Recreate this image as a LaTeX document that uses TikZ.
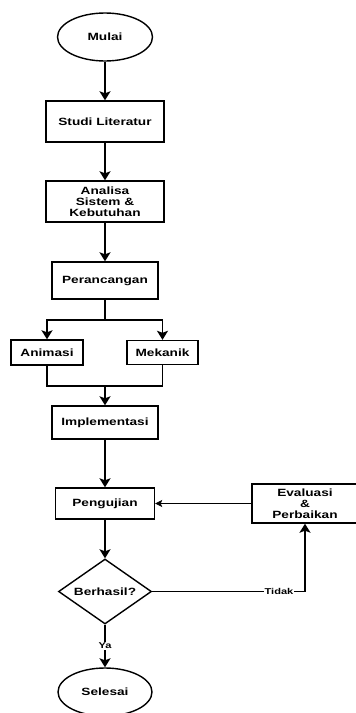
\documentclass[tikz,border=0pt]{standalone}
\usepackage{fontspec}
\setmainfont{Liberation Sans}[FakeStretch=1.3]
\usetikzlibrary{arrows.meta,positioning,shapes.geometric}

\begin{document}
\begin{tikzpicture}[%
        x=1pt, y=-1pt,
        >={Stealth[length=9pt,width=11pt,inset=2pt]},
        on grid,
        every node/.style={font=\fontsize{10.5}{11}\selectfont\bfseries, align=center},
        terminal/.style={ellipse, draw, line width=1.4pt, minimum width=95pt, minimum height=48pt, inner sep=0pt},
        procbox/.style={rectangle, draw, line width=1.4pt, inner sep=0pt},
        decision/.style={diamond, draw, line width=1.4pt, minimum width=93pt, minimum height=65pt, aspect=1.43, inner sep=0pt},
        flow/.style={line width=1.6pt},
        thinflow/.style={line width=0.8pt, -{Stealth[length=7pt,width=7pt,inset=1.5pt]}},
        answer/.style={fill=white, inner sep=1pt, font=\fontsize{8.5}{9}\selectfont\bfseries}
        ]

        \useasboundingbox (0,0) rectangle (356,713);

        \node[terminal] (mulai) at (105,37) {Mulai};
        \node[procbox, minimum width=118pt, minimum height=41pt] (studi) [below=84.5pt of mulai] {Studi Literatur};
        \node[procbox, minimum width=118pt, minimum height=41pt] (analisa) [below=80pt of studi] {Analisa\\Sistem \&\\Kebutuhan};
        \node[procbox, minimum width=106pt, minimum height=37pt] (peran) [below=79pt of analisa] {Perancangan};
        \coordinate[below=39.5pt of peran] (fork);
        \node[procbox, minimum width=72pt, minimum height=25pt] (animasi) [below left=72pt and 58pt of peran] {Animasi};
        \node[procbox, minimum width=71pt, minimum height=24pt] (mekanik) [below right=72pt and 57.5pt of peran] {Mekanik};
        \coordinate[below=105.5pt of peran] (gabung);
        \node[procbox, minimum width=106pt, minimum height=33pt] (impl) [below=142pt of peran] {Implementasi};
        \node[procbox, minimum width=99pt, minimum height=31pt] (uji) [below=81pt of impl] {Pengujian};
        \node[procbox, minimum width=106pt, minimum height=39pt] (eval) [right=200pt of uji] {Evaluasi\\\&\\Perbaikan};
        \node[decision] (cek) [below=88pt of uji] {Berhasil?};
        \node[terminal, minimum width=94pt] (selesai) [below=100.5pt of cek] {Selesai};

        \draw[flow,->] (mulai) -- (studi);
        \draw[flow,->] (studi) -- (analisa);
        \draw[flow,->] (analisa) -- (peran);
        \draw[flow] (peran) -- (fork);
        \draw[flow,->] (fork) -| (animasi.north);
        \draw[flow,->] (fork) -| (mekanik.north);
        \draw[flow] (animasi.south) |- (gabung);
        \draw[flow] (mekanik.south) |- (gabung);
        \draw[flow,->] (gabung) -- (impl);
        \draw[flow,->] (impl) -- (uji);
        \draw[flow,->] (uji) -- (cek);
        \draw[flow,->] (cek) -- node[answer] {Ya} (selesai);
        \draw[flow,->] (cek.east) -| node[answer, pos=0.415] {Tidak} (eval.south);
        \draw[thinflow] (eval) -- (uji);

\end{tikzpicture}
\end{document}
